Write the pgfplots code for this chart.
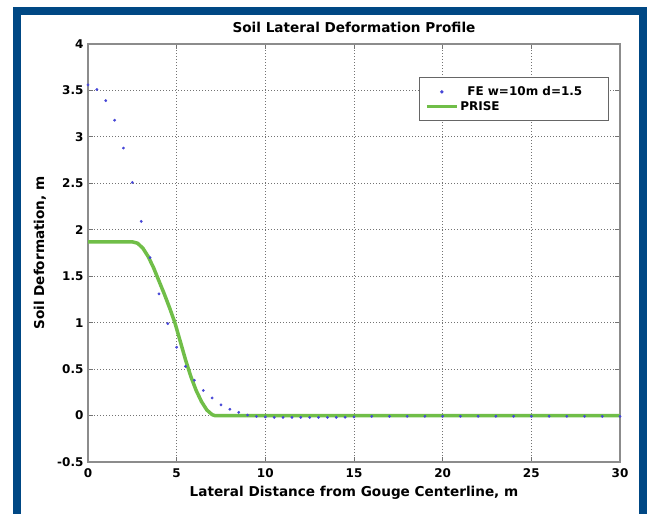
\documentclass[border=0pt]{standalone}
\usepackage{pgfplots}
\pgfplotsset{compat=1.18}
\usepackage{fontspec}
\setmainfont{DejaVu Sans}
\definecolor{frameblue}{RGB}{0,72,132}
\definecolor{prise}{RGB}{112,190,72}
\definecolor{fe}{RGB}{70,70,215}
\pgfplotsset{
  feleg/.style={legend image code/.code={\draw[mark repeat=2,mark phase=2,##1] plot coordinates {(0pt,0pt)(15pt,0pt)(30pt,0pt)};}},
  priseleg/.style={legend image code/.code={\draw[##1,line width=3pt] (0pt,0pt) -- (30pt,0pt);}},
}
\begin{document}
\begin{tikzpicture}[x=1pt,y=1pt]
\useasboundingbox[fill=white] (0,0) rectangle (647,514);
\fill[frameblue] (13,0) rectangle (21,507);
\fill[frameblue] (13,499) rectangle (647,507);
\fill[frameblue] (639,0) rectangle (647,507);
\begin{axis}[
  at={(88pt,52pt)}, anchor=south west,
  scale only axis, width=532pt, height=418pt,
  xmin=0, xmax=30, ymin=-0.5, ymax=4,
  xtick={0,5,...,30}, ytick={-0.5,0,0.5,1,1.5,2,2.5,3,3.5,4},
  grid=major,
  major grid style={dash pattern=on 1.2pt off 1.8pt, black!55, line width=1pt},
  axis line style={black!45, line width=1.3pt},
  tick style={black!55, line width=0.9pt},
  tick align=inside, major tick length=5pt,
  ticklabel style={font=\fontsize{12}{14}\selectfont\bfseries},
  xticklabel style={yshift=-3pt},
  yticklabel style={xshift=-1pt},
  /pgf/number format/assume math mode=true,
  title={Soil Lateral Deformation Profile},
  title style={at={(axis description cs:0.5,1.0407)}, anchor=center, yshift=-6pt, font=\fontsize{13.6}{16}\selectfont\bfseries},
  xlabel={Lateral Distance from Gouge Centerline, m},
  xlabel style={at={(axis description cs:0.5,-0.0742)}, anchor=center, font=\fontsize{13.6}{16}\selectfont\bfseries},
  ylabel={Soil Deformation, m},
  ylabel style={at={(axis description cs:-0.0902,0.5)}, anchor=center, font=\fontsize{13.6}{16}\selectfont\bfseries},
  legend style={at={(axis description cs:0.979,0.921)}, anchor=north east,
    draw=black!60, line width=1pt, fill=white,
    font=\fontsize{12}{14}\selectfont\bfseries,
    inner xsep=6pt, inner ysep=7pt, row sep=0pt,
    cells={anchor=west}},
  legend cell align=left,
]
\addplot[only marks, mark=*, mark size=1.2pt, color=fe, feleg]
coordinates {
(0,3.56) (0.5,3.51) (1,3.39) (1.5,3.18) (2,2.88) (2.5,2.51) (3,2.09) (3.5,1.70)
(4,1.31) (4.5,0.99) (5,0.735) (5.5,0.53) (6,0.38) (6.5,0.27) (7,0.19) (7.5,0.115)
(8,0.068) (8.5,0.035) (9,0.005) (9.5,-0.01) (10,-0.015) (10.5,-0.02) (11,-0.02)
(11.5,-0.02) (12,-0.02) (12.5,-0.02) (13,-0.02) (13.5,-0.02) (14,-0.02) (14.5,-0.018)
(15,-0.015) (16,-0.008) (17,-0.008) (18,-0.008) (19,-0.008) (20,-0.008) (21,-0.008)
(22,-0.008) (23,-0.008) (24,-0.008) (25,-0.008) (26,-0.008) (27,-0.008) (28,-0.008)
(29,-0.008) (30,-0.008)
};
\addlegendentry{\hspace*{7pt}FE w=10m d=1.5\hspace*{18pt}\mbox{}}
\addplot[color=prise, line width=3.5pt, line join=round, priseleg]
coordinates {
(0,1.87) (2.5,1.87) (2.8,1.855) (3.1,1.80) (3.4,1.71) (3.7,1.59) (4.0,1.45)
(4.3,1.31) (4.6,1.16) (4.9,1.0) (5.2,0.80) (5.5,0.60) (5.8,0.42) (6.1,0.27)
(6.4,0.15) (6.7,0.06) (7.0,0.01) (7.15,0) (30,0)
};
\addlegendentry{PRISE}
\end{axis}
\end{tikzpicture}
\end{document}
